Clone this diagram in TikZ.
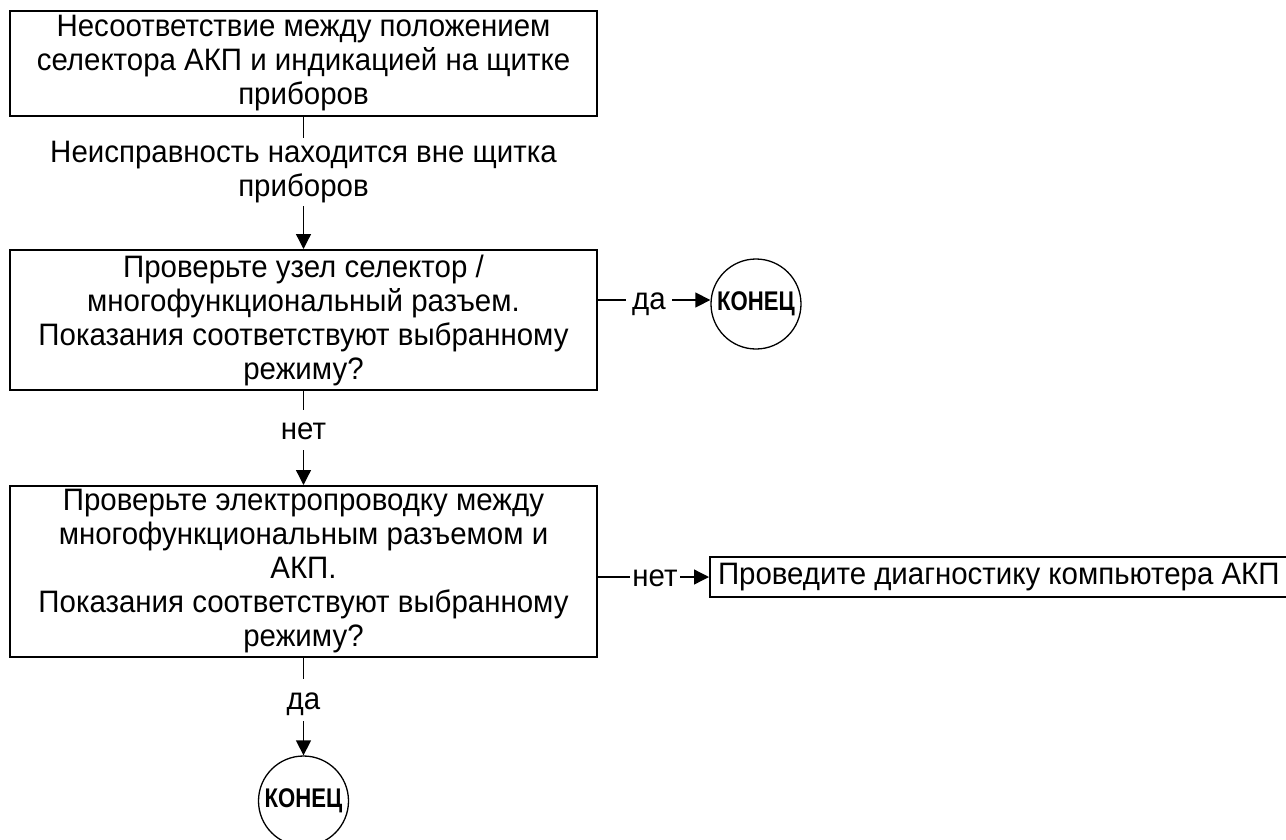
\documentclass[tikz,border=0pt]{standalone}
\usepackage{fontspec}
\setmainfont{Liberation Sans}
\newfontfamily\mycond[FakeStretch=0.95]{Liberation Sans}
\newfontfamily\myboldcond[FakeStretch=0.82]{Liberation Sans Bold}
\usetikzlibrary{arrows.meta}
\newcommand\myfs{\mycond\fontsize{31pt}{34pt}\selectfont}
\newcommand\myfb{\myboldcond\fontsize{27pt}{28pt}\selectfont}
\tikzset{
  box/.style={draw, line width=2pt, align=center, font=\myfs, inner sep=0pt},
  lab/.style={inner sep=0pt, align=center, font=\myfs},
  slab/.style={inner sep=0pt, font=\myfs, text height=19pt, text depth=0pt},
  conn/.style={line width=1.3pt},
  arr/.style={line width=1.3pt, -{Triangle[length=15pt,width=15pt]}},
  endc/.style={circle, draw, line width=1.3pt, minimum size=90pt, inner sep=0pt, font=\myfb}
}
\begin{document}
\begin{tikzpicture}[x=1pt,y=-1pt]
\useasboundingbox (0,0) rectangle (1286,839);
\node[box, minimum width=587pt, minimum height=105pt] (b1) at (303.5,63.5)
  {Несоответствие между положением\\селектора АКП и индикацией на щитке\\приборов};
\node[lab, minimum height=68pt] (l1) at (303.5,172)
  {Неисправность находится вне щитка\\приборов};
\node[box, minimum width=587pt, minimum height=140pt] (b2) at (303.5,320)
  {Проверьте узел селектор /\\многофункциональный разъем.\\Показания соответствуют выбранному\\режиму?};
\node[endc] (c1) at (756,304) {КОНЕЦ};
\node[slab, minimum width=46pt] (l2) at (649,300) {да};
\node[slab, minimum height=40pt] (l3) at (303.5,430) {нет};
\node[box, minimum width=587pt, minimum height=171pt] (b3) at (303.5,571.5)
  {Проверьте электропроводку между\\многофункциональным разъемом и\\АКП.\\Показания соответствуют выбранному\\режиму?};
\node[slab, minimum width=50pt] (l4) at (655,577) {нет};
\node[box, anchor=west, minimum height=40pt, inner xsep=8pt] (b4) at (709,577)
  {Проведите диагностику компьютера АКП};
\node[slab, minimum height=42pt] (l5) at (303.5,700) {да};
\node[endc] (c2) at (303.5,801) {КОНЕЦ};

\draw[conn] (b1.south) -- (l1.north);
\draw[arr] (l1.south) -- (b2.north);
\draw[conn] (b2.east |- l2) -- (l2.west);
\draw[arr] (l2.east) -- (l2.east -| c1.west);
\draw[conn] (b2.south) -- (l3.north);
\draw[arr] (l3.south) -- (b3.north);
\draw[conn] (b3.east |- l4) -- (l4.west);
\draw[arr] (l4.east) -- (b4.west);
\draw[conn] (b3.south) -- (l5.north);
\draw[arr] (l5.south) -- (c2.north);
\end{tikzpicture}
\end{document}
